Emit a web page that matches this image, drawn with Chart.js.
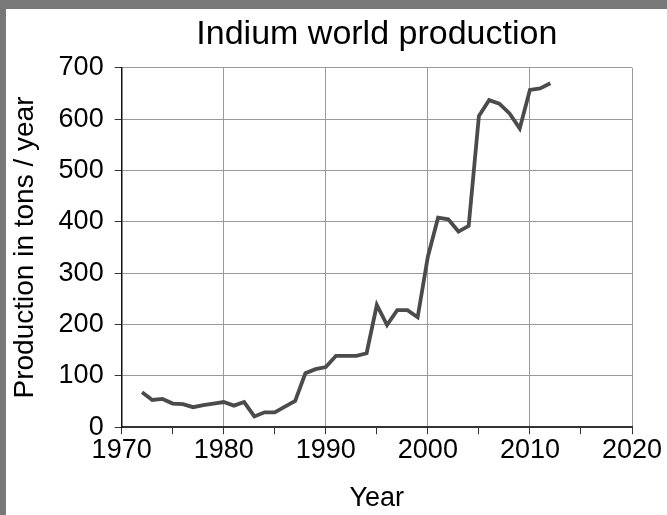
<!DOCTYPE html>
<html>
<head>
<meta charset="utf-8">
<script src="https://cdn.jsdelivr.net/npm/chart.js@4/dist/chart.umd.min.js"></script>
<style>
  html, body { margin: 0; padding: 0; background: #787878; }
  #wrap { position: absolute; left: 6px; top: 9px; width: 661px; height: 506px; background: #fff; }
</style>
</head>
<body>
<div id="wrap"><canvas id="indiumChart" width="661" height="506"></canvas></div>
<script>
const years = [1972, 1973, 1974, 1975, 1976, 1977, 1978, 1979, 1980, 1981,
               1982, 1983, 1984, 1985, 1986, 1987, 1988, 1989, 1990, 1991,
               1992, 1993, 1994, 1995, 1996, 1997, 1998, 1999, 2000, 2001,
               2002, 2003, 2004, 2005, 2006, 2007, 2008, 2009, 2010, 2011, 2012];
const production = [68, 53, 55, 46, 45, 39, 43, 46, 49, 42,
                    49, 21, 29, 29, 40, 51, 105, 113, 117, 139,
                    139, 139, 144, 238, 199, 228, 228, 214, 332, 408,
                    405, 381, 392, 606, 637, 630, 611, 582, 657, 660, 670];
const yTicks = [0, 100, 200, 300, 400, 500, 600, 700];

const font = '"Liberation Sans", Arial, sans-serif';

// centre the title over the plot area rather than the whole canvas
const titleOverPlot = {
    id: 'titleOverPlot',
    afterLayout(chart) {
        if (chart.titleBlock) {
            chart.titleBlock.left = chart.chartArea.left;
            chart.titleBlock.right = chart.chartArea.right;
        }
    }
};

window.onload = function() {
    const ctx = document.getElementById('indiumChart').getContext('2d');

    new Chart(ctx, {
        type: 'line',
        data: {
            datasets: [{
                label: 'Indium',
                data: years.map((y, i) => ({ x: y, y: production[i] })),
                borderColor: '#4b4b4b',
                borderWidth: 3.8,
                pointRadius: 0,
                tension: 0,
                fill: false
            }]
        },
        options: {
            responsive: false,
            animation: false,
            layout: { padding: { top: 0, right: 35, left: 2, bottom: 0 } },
            plugins: {
                legend: { display: false },
                tooltip: { enabled: false },
                title: {
                    display: true,
                    text: 'Indium world production',
                    color: '#000',
                    font: { family: font, size: 34, weight: 'normal' },
                    padding: { top: 5, bottom: 13 }
                }
            },
            scales: {
                x: {
                    type: 'linear',
                    min: 1970,
                    max: 2020,
                    ticks: {
                        stepSize: 5,
                        color: '#000',
                        font: { family: font, size: 27 },
                        padding: 0,
                        maxRotation: 0,
                        autoSkip: false,
                        callback: v => (v % 10 === 0 ? String(v) : '')
                    },
                    grid: {
                        color: c => (c.tick && c.tick.value % 10 === 0 && c.tick.value !== 1970 ? '#9a9a9a' : 'rgba(0,0,0,0)'),
                        tickColor: '#333',
                        tickLength: 7,
                        lineWidth: 1
                    },
                    border: { color: '#333', width: 2 },
                    title: {
                        display: true,
                        text: 'Year',
                        color: '#000',
                        font: { family: font, size: 27 },
                        padding: { top: 16, bottom: 0 }
                    }
                },
                y: {
                    min: 0,
                    max: 700,
                    afterBuildTicks: axis => { axis.ticks = yTicks.map(v => ({ value: v })); },
                    ticks: {
                        color: '#000',
                        font: { family: font, size: 27 },
                        padding: 11
                    },
                    grid: {
                        color: c => (c.tick && c.tick.value === 0 ? 'rgba(0,0,0,0)' : '#9a9a9a'),
                        tickColor: '#333',
                        tickLength: 7,
                        lineWidth: 1
                    },
                    border: { color: '#111', width: 1.5 },
                    title: {
                        display: true,
                        text: 'Production in tons / year',
                        color: '#000',
                        font: { family: font, size: 28 },
                        padding: { top: 0, bottom: 6 }
                    }
                }
            }
        },
        plugins: [titleOverPlot]
    });
};
</script>
</body>
</html>
